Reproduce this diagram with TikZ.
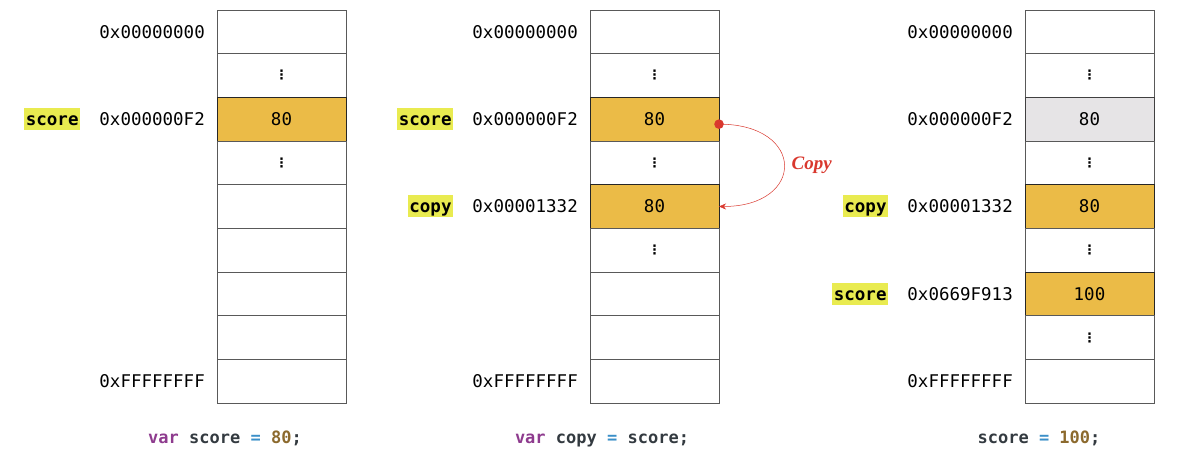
\documentclass[tikz,border=0pt]{standalone}
\usepackage{fontspec}
\setmonofont{DejaVu Sans Mono}
\newfontfamily\copyfont{Liberation Serif}
\newfontfamily\dotsfont{DejaVu Sans}
\usepackage{xcolor}
\usetikzlibrary{positioning, arrows.meta}

\definecolor{cellorange}{HTML}{EBBB47}
\definecolor{cellgray}{HTML}{E6E4E6}
\definecolor{hilite}{HTML}{E9EB50}
\definecolor{kwpurple}{HTML}{8E3B8E}
\definecolor{opblue}{HTML}{3B8FC8}
\definecolor{numbrown}{HTML}{8C6A2E}
\definecolor{identdark}{HTML}{333A40}
\definecolor{copyred}{HTML}{D9382E}

\newcommand{\vd}{{\dotsfont\bfseries\fontsize{13}{13}\selectfont ⋮}}

\begin{document}
\begin{tikzpicture}[
    x=1pt, y=-1pt,
    every node/.style={font=\fontsize{17.5}{18}\selectfont\ttfamily},
    % one memory slot
    cell/.style={draw=black!65, line width=0.9pt, fill=white, minimum width=129pt,
                 minimum height=43.67pt, inner sep=0pt, outer sep=0pt},
    % slot that holds a live value
    used/.style={cell, fill=cellorange, draw=black!85},
    % slot that is no longer referenced
    stale/.style={cell, fill=cellgray, draw=black!75},
    addr/.style={inner sep=0pt, left=12pt of #1},
    varname/.style={font=\fontsize{17.5}{18}\selectfont\ttfamily\bfseries, fill=hilite,
                    inner xsep=1.5pt, inner ysep=0pt, text height=12.8pt, text depth=0pt,
                    minimum height=22pt, left=19pt of #1},
    code/.style={font=\fontsize{17}{18}\selectfont\ttfamily\bfseries, text=identdark, anchor=base},
    copyarrow/.style={copyred, line width=0.5pt, -{Stealth[length=7pt, width=6pt]}}
]
\useasboundingbox (0,0) rectangle (1183,457);

% first memory
\node[cell] (a1) at (281.5,31.8) {};
\node[cell, below=0pt of a1] (a2) {\vd};
\node[used, below=0pt of a2] (a3) {80};
\node[cell, below=0pt of a3] (a4) {\vd};
\node[cell, below=0pt of a4] (a5) {};
\node[cell, below=0pt of a5] (a6) {};
\node[cell, below=0pt of a6] (a7) {};
\node[cell, below=0pt of a7] (a8) {};
\node[cell, below=0pt of a8] (a9) {};

\node[addr=a1] (a1addr) {0x00000000};
\node[addr=a3] (a3addr) {0x000000F2};
\node[addr=a9] (a9addr) {0xFFFFFFFF};
\node[varname=a3addr] (ascore) {score};

% second memory
\node[cell] (b1) at (654.5,31.8) {};
\node[cell, below=0pt of b1] (b2) {\vd};
\node[used, below=0pt of b2] (b3) {80};
\node[cell, below=0pt of b3] (b4) {\vd};
\node[used, below=0pt of b4] (b5) {80};
\node[cell, below=0pt of b5] (b6) {\vd};
\node[cell, below=0pt of b6] (b7) {};
\node[cell, below=0pt of b7] (b8) {};
\node[cell, below=0pt of b8] (b9) {};

\node[addr=b1] (b1addr) {0x00000000};
\node[addr=b3] (b3addr) {0x000000F2};
\node[addr=b5] (b5addr) {0x00001332};
\node[addr=b9] (b9addr) {0xFFFFFFFF};
\node[varname=b3addr] (bscore) {score};
\node[varname=b5addr] (bcopy) {copy};

% third memory
\node[cell] (c1) at (1089.5,31.8) {};
\node[cell, below=0pt of c1] (c2) {\vd};
\node[stale, below=0pt of c2] (c3) {80};
\node[cell, below=0pt of c3] (c4) {\vd};
\node[used, below=0pt of c4] (c5) {80};
\node[cell, below=0pt of c5] (c6) {\vd};
\node[used, below=0pt of c6] (c7) {100};
\node[cell, below=0pt of c7] (c8) {\vd};
\node[cell, below=0pt of c8] (c9) {};

\node[addr=c1] (c1addr) {0x00000000};
\node[addr=c3] (c3addr) {0x000000F2};
\node[addr=c5] (c5addr) {0x00001332};
\node[addr=c7] (c7addr) {0x0669F913};
\node[addr=c9] (c9addr) {0xFFFFFFFF};
\node[varname=c5addr] (ccopy) {copy};
\node[varname=c7addr] (cscore) {score};

% copy arrow
\coordinate (src) at ([yshift=-5pt]b3.east);
\draw[copyarrow] (src) to[out=0, in=0, looseness=2.7]
    node[right=4pt, text=copyred, font=\copyfont\fontsize{19}{20}\selectfont\bfseries\itshape] (copylbl) {Copy}
    (b5.east);
\fill[copyred] (src) circle (4.8pt);

% statements
\node[code] (acode) at (225,443) {\textcolor{kwpurple}{var} score \textcolor{opblue}{=} \textcolor{numbrown}{80};};
\node[code] (bcode) at (602,443) {\textcolor{kwpurple}{var} copy \textcolor{opblue}{=} score;};
\node[code] (ccode) at (1039,443) {score \textcolor{opblue}{=} \textcolor{numbrown}{100};};

\end{tikzpicture}
\end{document}
